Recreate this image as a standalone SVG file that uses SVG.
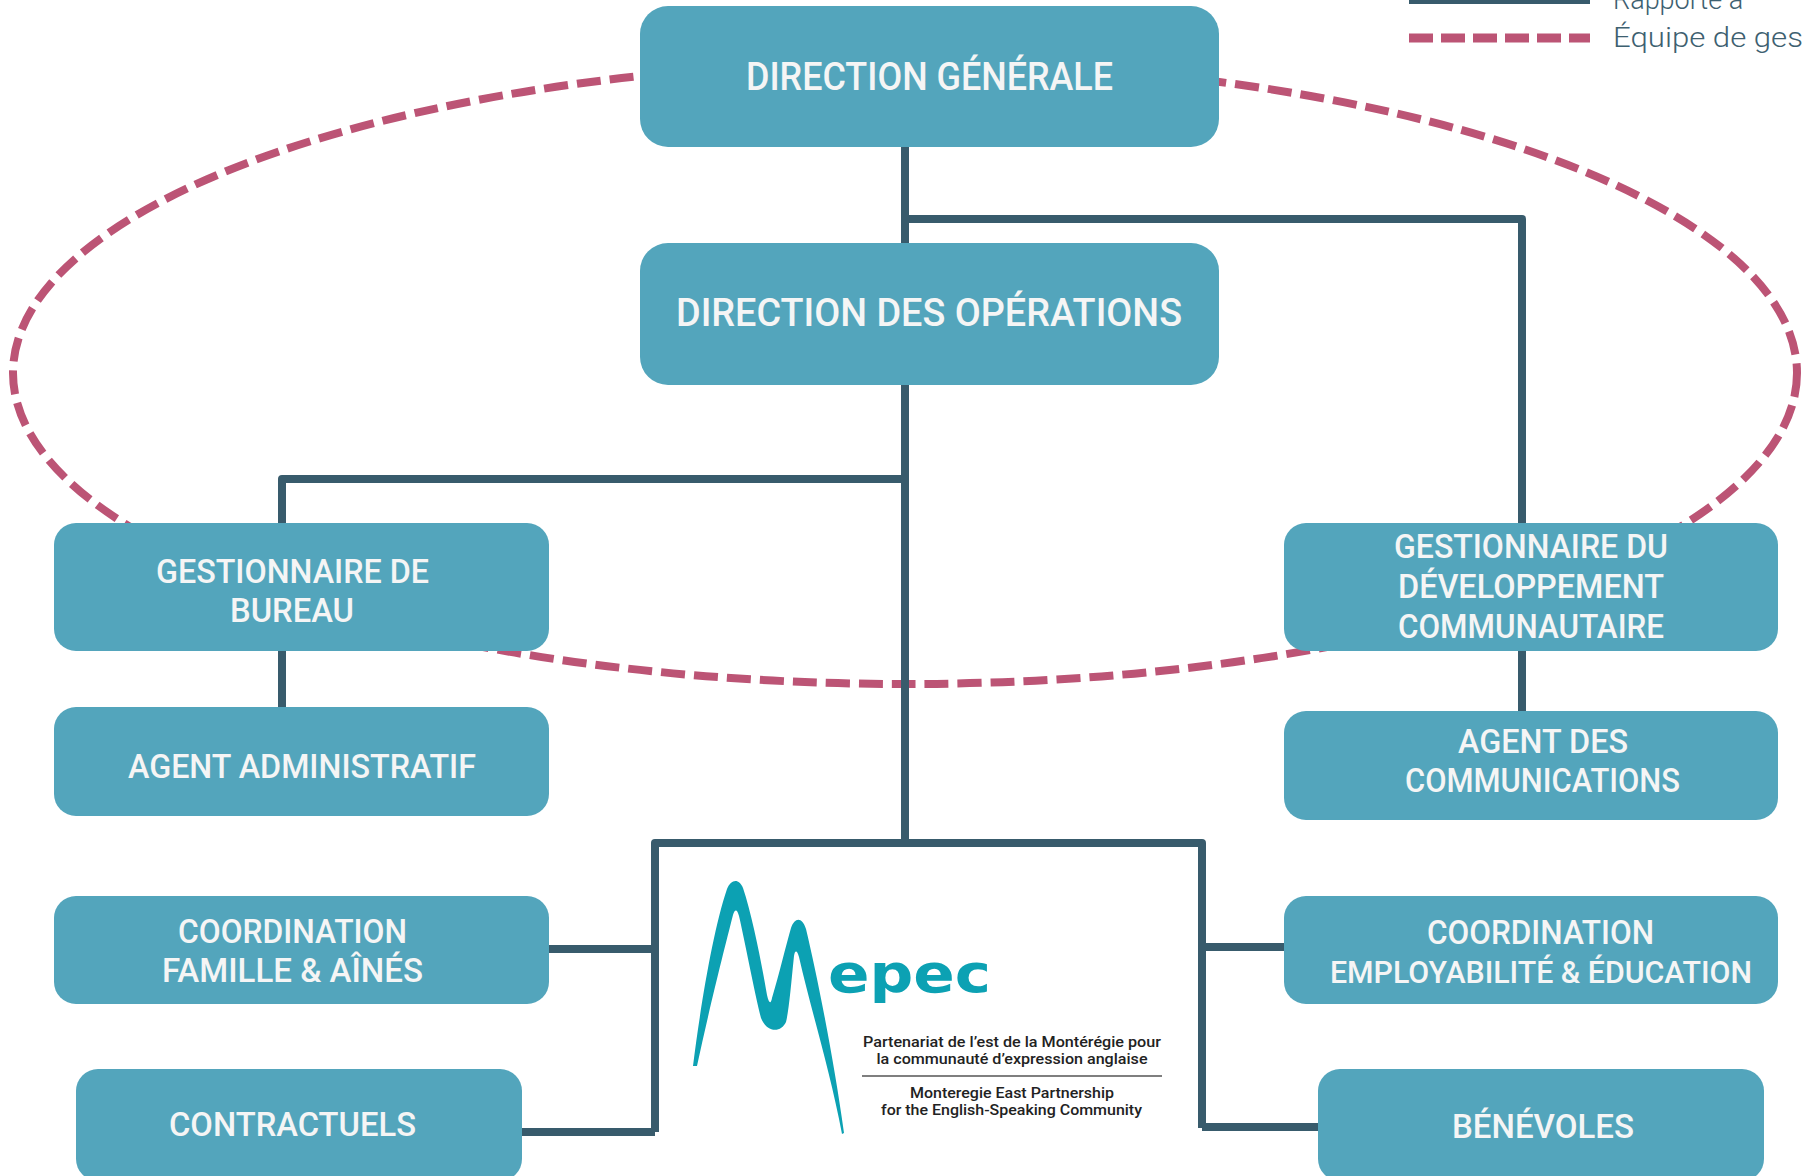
<svg xmlns="http://www.w3.org/2000/svg" width="1803" height="1176" viewBox="0 0 1803 1176">
<style>
.box{fill:#53a5bc}
.lbl{font-family:Roboto,"Liberation Sans",sans-serif;font-weight:500;font-size:34px;fill:#f5f5f5;text-anchor:middle}
.big{font-size:38px}
.sm{font-size:32px}
.con{fill:none;stroke:#385b6c;stroke-width:8;stroke-linejoin:round}
.team{fill:none;stroke:#bc5475;stroke-width:8;stroke-dasharray:24 9}
.leg{font-family:Roboto,"Liberation Sans",sans-serif;font-weight:300;font-size:27px;fill:#3d6070}
.logo{font-family:Roboto,"Liberation Sans",sans-serif;font-weight:500;font-size:15px;fill:#222;text-anchor:middle}
</style>
<rect width="1803" height="1176" fill="#ffffff"/>
<ellipse id="equipe-gestion" class="team" cx="905" cy="373" rx="892" ry="311"/>
<g id="connectors">
<path class="con" d="M905 147V243"/>
<path class="con" d="M905 219H1522V523"/>
<path class="con" d="M905 385V843"/>
<path class="con" d="M905 479H282V523"/>
<path class="con" d="M282 651V707"/>
<path class="con" d="M1522 651V711"/>
<path class="con" d="M655 1132V843H1202V1128"/>
<path class="con" d="M549 949H655"/>
<path class="con" d="M522 1132H655"/>
<path class="con" d="M1202 947H1284"/>
<path class="con" d="M1202 1127H1318"/>
</g>
<g id="direction-generale">
<rect class="box" x="640" y="6" width="579" height="141" rx="28"/>
<text class="lbl big" x="929.5" y="90" textLength="367" lengthAdjust="spacingAndGlyphs">DIRECTION GÉNÉRALE</text>
</g>
<g id="direction-operations">
<rect class="box" x="640" y="243" width="579" height="142" rx="28"/>
<text class="lbl big" x="929" y="326" textLength="506" lengthAdjust="spacingAndGlyphs">DIRECTION DES OPÉRATIONS</text>
</g>
<g id="gestionnaire-bureau">
<rect class="box" x="54" y="523" width="495" height="128" rx="22"/>
<text class="lbl" x="292.5" y="583" textLength="273" lengthAdjust="spacingAndGlyphs">GESTIONNAIRE DE</text>
<text class="lbl" x="292" y="622" textLength="124" lengthAdjust="spacingAndGlyphs">BUREAU</text>
</g>
<g id="agent-administratif">
<rect class="box" x="54" y="707" width="495" height="109" rx="22"/>
<text class="lbl" x="302" y="778" textLength="348" lengthAdjust="spacingAndGlyphs">AGENT ADMINISTRATIF</text>
</g>
<g id="coordination-famille">
<rect class="box" x="54" y="896" width="495" height="108" rx="22"/>
<text class="lbl" x="292.5" y="943" textLength="229" lengthAdjust="spacingAndGlyphs">COORDINATION</text>
<text class="lbl" x="292.5" y="982" textLength="261" lengthAdjust="spacingAndGlyphs">FAMILLE &amp; AÎNÉS</text>
</g>
<g id="contractuels">
<rect class="box" x="76" y="1069" width="446" height="112" rx="22"/>
<text class="lbl" x="292.5" y="1136" textLength="247" lengthAdjust="spacingAndGlyphs">CONTRACTUELS</text>
</g>
<g id="gestionnaire-developpement">
<rect class="box" x="1284" y="523" width="494" height="128" rx="22"/>
<text class="lbl" x="1531" y="558" textLength="274" lengthAdjust="spacingAndGlyphs">GESTIONNAIRE DU</text>
<text class="lbl" x="1531" y="598" textLength="266" lengthAdjust="spacingAndGlyphs">DÉVELOPPEMENT</text>
<text class="lbl" x="1531" y="638" textLength="266" lengthAdjust="spacingAndGlyphs">COMMUNAUTAIRE</text>
</g>
<g id="agent-communications">
<rect class="box" x="1284" y="711" width="494" height="109" rx="22"/>
<text class="lbl" x="1543" y="753" textLength="170" lengthAdjust="spacingAndGlyphs">AGENT DES</text>
<text class="lbl" x="1542.5" y="792" textLength="275" lengthAdjust="spacingAndGlyphs">COMMUNICATIONS</text>
</g>
<g id="coordination-employabilite">
<rect class="box" x="1284" y="896" width="494" height="108" rx="22"/>
<text class="lbl" x="1540.5" y="944" textLength="227" lengthAdjust="spacingAndGlyphs">COORDINATION</text>
<text class="lbl sm" x="1541" y="983" textLength="422" lengthAdjust="spacingAndGlyphs">EMPLOYABILITÉ &amp; ÉDUCATION</text>
</g>
<g id="benevoles">
<rect class="box" x="1318" y="1069" width="446" height="112" rx="22"/>
<text class="lbl" x="1543" y="1138" textLength="182" lengthAdjust="spacingAndGlyphs">BÉNÉVOLES</text>
</g>
<g id="logo">
<path fill="#0ca1b3" d="M693 1066C700 1010 713 930 727 889C731 879 739 878 743 888C752 915 761 960 767 995C769 1004 771 1004 772 998C779 975 786 945 791 928C795 917 802 917 806 929C817 975 834 1060 844 1133L842 1134C830 1070 811 1010 799 957C797 950 795 950 794 956C791 985 789 1010 786 1022C781 1033 767 1033 761 1018C754 990 745 942 739 916C737 909 735 909 733 915C724 950 709 1010 697 1066Z"/>
<text x="828" y="992" textLength="163" lengthAdjust="spacingAndGlyphs" style="font-family:'DejaVu Sans',sans-serif;font-weight:bold;font-size:54px;fill:#0ca1b3">epec</text>
<text class="logo" x="1012" y="1047" textLength="298" lengthAdjust="spacingAndGlyphs">Partenariat de l’est de la Montérégie pour</text>
<text class="logo" x="1012" y="1064" textLength="271" lengthAdjust="spacingAndGlyphs">la communauté d’expression anglaise</text>
<line x1="862" y1="1076" x2="1162" y2="1076" stroke="#555" stroke-width="1.5"/>
<text class="logo" x="1012" y="1098" textLength="204" lengthAdjust="spacingAndGlyphs">Monteregie East Partnership</text>
<text class="logo" x="1011.5" y="1115" textLength="261" lengthAdjust="spacingAndGlyphs">for the English-Speaking Community</text>
</g>
<g id="legend">
<line x1="1409" y1="0" x2="1590" y2="0" stroke="#385b6c" stroke-width="8"/>
<line x1="1409" y1="38" x2="1590" y2="38" stroke="#bc5475" stroke-width="9" stroke-dasharray="24 8"/>
<text class="leg" x="1613" y="9">Rapporte à</text>
<text class="leg" x="1613" y="47" textLength="190" lengthAdjust="spacingAndGlyphs">Équipe de ges</text>
</g>
</svg>
